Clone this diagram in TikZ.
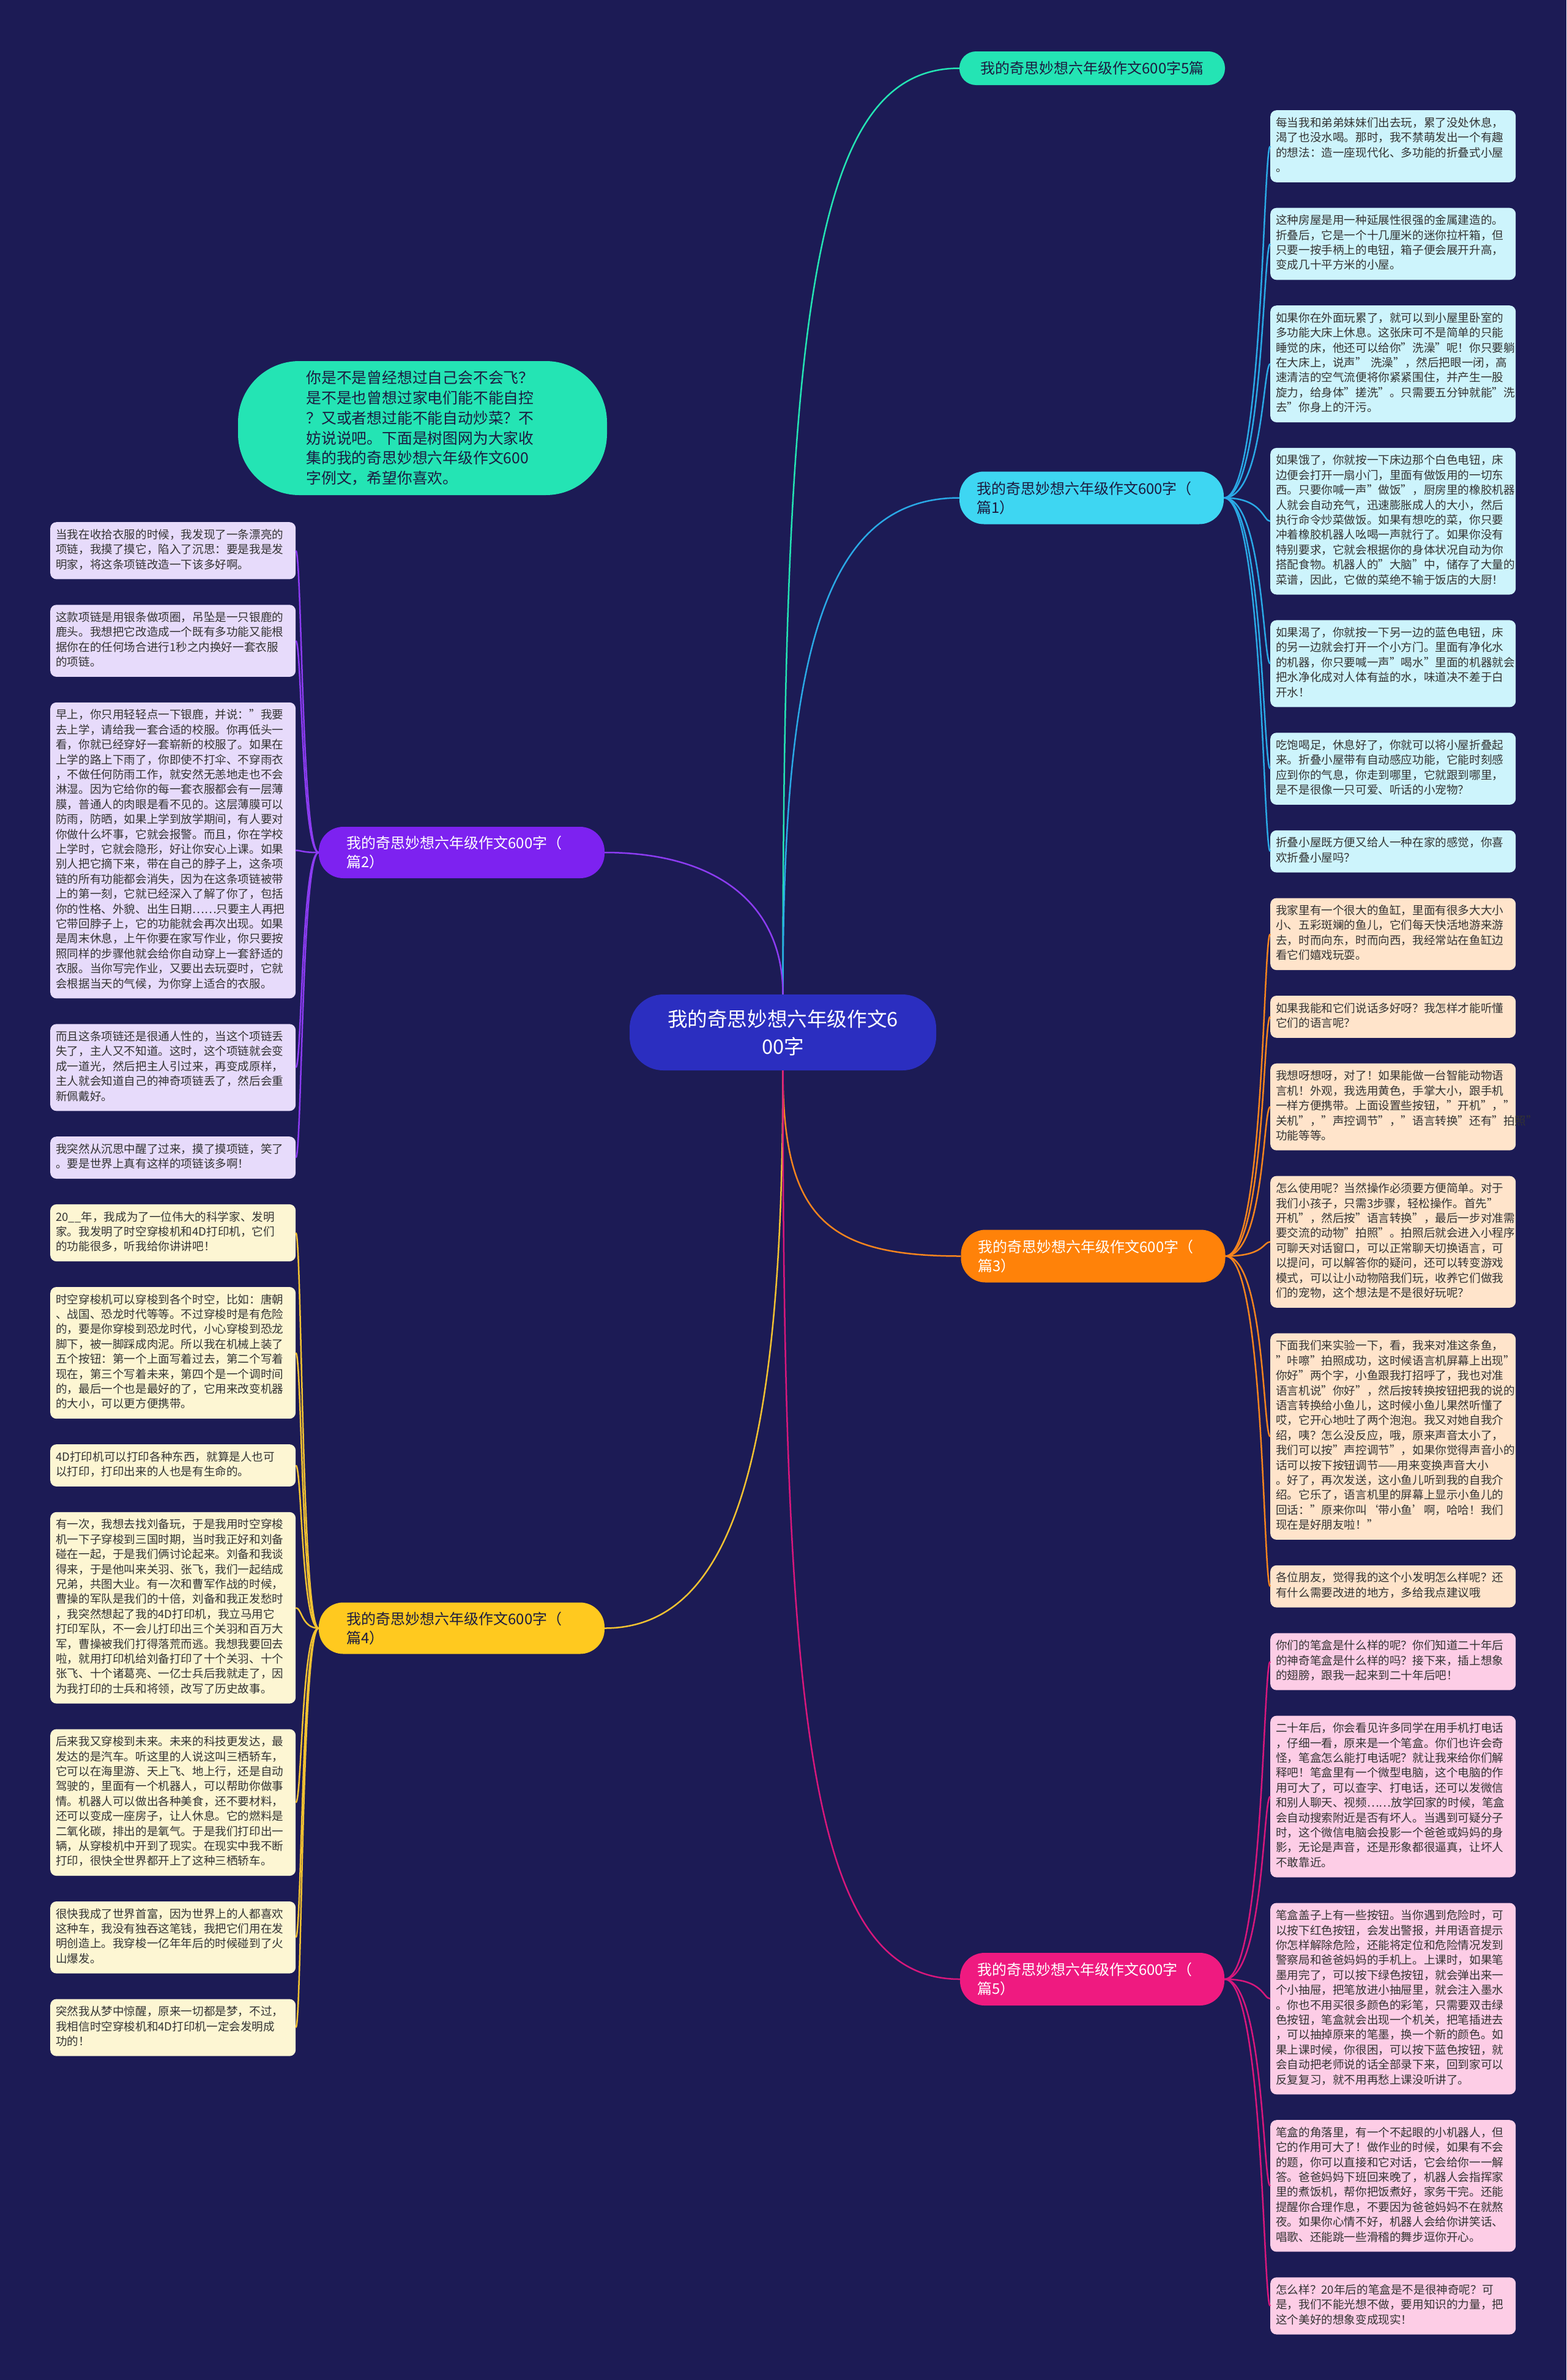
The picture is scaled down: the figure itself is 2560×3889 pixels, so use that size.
\documentclass[tikz,border=0pt]{standalone}
\usepackage{fontspec}
\setmainfont{Noto Sans CJK SC}
\usepackage{tikz}
\usetikzlibrary{positioning}
\definecolor{bgnavy}{HTML}{1C1B55}
\definecolor{rootblue}{HTML}{2B2EC0}
\definecolor{aqua}{HTML}{24E4B4}
\definecolor{cyanbr}{HTML}{3ED6F2}
\definecolor{cyanln}{HTML}{2AA9E6}
\definecolor{cyanleaf}{HTML}{CDF4FC}
\definecolor{purplebr}{HTML}{7D22F0}
\definecolor{purpleln}{HTML}{8C3CF2}
\definecolor{purpleleaf}{HTML}{E7DBFB}
\definecolor{orangebr}{HTML}{FF8209}
\definecolor{orangeln}{HTML}{F5841E}
\definecolor{orangeleaf}{HTML}{FFE4CB}
\definecolor{yellowbr}{HTML}{FFC91F}
\definecolor{yellowln}{HTML}{F2C232}
\definecolor{yellowleaf}{HTML}{FDF6D3}
\definecolor{pinkbr}{HTML}{EF1A80}
\definecolor{pinkln}{HTML}{D8177C}
\definecolor{pinkleaf}{HTML}{FDCDE6}
\definecolor{leaftext}{HTML}{333333}
\definecolor{darktext}{HTML}{1C1B40}

\begin{document}
\begin{tikzpicture}[x=1pt, y=-1pt, node distance=41.5pt,
  leaf/.style={rectangle, rounded corners=10pt, text width=383pt, inner xsep=9pt, inner ysep=10pt,
    align=left, text=leaftext, font=\fontsize{18.6}{24.4}\selectfont,
    execute at begin node=\strut, execute at end node=\strut},
  branch/.style={rectangle, rounded corners=40pt, minimum width=432pt, minimum height=86pt,
    text width=376pt, align=left, font=\fontsize{24}{31}\selectfont},
  lbranch/.style={branch, minimum width=467pt, minimum height=84pt},
  root/.style={rectangle, rounded corners=55pt, minimum width=501pt, minimum height=124pt,
    text width=420pt, align=center, fill=rootblue, text=white, font=\fontsize{32.6}{45}\selectfont},
  link/.style={line width=2.5pt}]

  \fill[bgnavy] (0,0) rectangle (2560,3889);

  \node[root] (root) at (1279.5,1687) {我的奇思妙想六年级作文6\\00字};

  \node[rectangle, rounded corners=100pt, minimum width=603pt, minimum height=219pt, text width=380pt,
    align=left, fill=aqua, text=darktext, font=\fontsize{24.8}{32.7}\selectfont] (intro) at (690.5,699.5)
    {你是不是曾经想过自己会不会飞？\\是不是也曾想过家电们能不能自控\\？又或者想过能不能自动炒菜？不\\妨说说吧。下面是树图网为大家收\\集的我的奇思妙想六年级作文600\\字例文，希望你喜欢。};

  \node[rectangle, rounded corners=27pt, minimum width=434pt, minimum height=55pt, align=center,
    fill=aqua, text=darktext, font=\fontsize{24}{31}\selectfont] (total) at (1785,111.5) {我的奇思妙想六年级作文600字5篇};

  \node[branch, fill=cyanbr, text=darktext] (b1) at (1784,813.5) {我的奇思妙想六年级作文600字（\\篇1）};
  \node[lbranch, fill=purplebr, text=white] (b2) at (754.5,1393) {我的奇思妙想六年级作文600字（\\篇2）};
  \node[branch, fill=orangebr, text=white] (b3) at (1786.5,2052.5) {我的奇思妙想六年级作文600字（\\篇3）};
  \node[lbranch, fill=yellowbr, text=darktext] (b4) at (754.5,2660.5) {我的奇思妙想六年级作文600字（\\篇4）};
  \node[branch, fill=pinkbr, text=white] (b5) at (1785,3234) {我的奇思妙想六年级作文600字（\\篇5）};

  % right column
  \node[leaf, fill=cyanleaf, anchor=north west] (r1) at (2076,180) {每当我和弟弟妹妹们出去玩，累了没处休息，\\渴了也没水喝。那时，我不禁萌发出一个有趣\\的想法：造一座现代化、多功能的折叠式小屋\\。};
  \node[leaf, fill=cyanleaf, below=of r1] (r2) {这种房屋是用一种延展性很强的金属建造的。\\折叠后，它是一个十几厘米的迷你拉杆箱，但\\只要一按手柄上的电钮，箱子便会展开升高，\\变成几十平方米的小屋。};
  \node[leaf, fill=cyanleaf, below=of r2] (r3) {如果你在外面玩累了，就可以到小屋里卧室的\\多功能大床上休息。这张床可不是简单的只能\\睡觉的床，他还可以给你"洗澡"呢！你只要躺\\在大床上，说声" 洗澡"，然后把眼一闭，高\\速清洁的空气流便将你紧紧围住，并产生一股\\旋力，给身体"搓洗"。只需要五分钟就能"洗\\去"你身上的汗污。};
  \node[leaf, fill=cyanleaf, below=of r3] (r4) {如果饿了，你就按一下床边那个白色电钮，床\\边便会打开一扇小门，里面有做饭用的一切东\\西。只要你喊一声"做饭"，厨房里的橡胶机器\\人就会自动充气，迅速膨胀成人的大小，然后\\执行命令炒菜做饭。如果有想吃的菜，你只要\\冲着橡胶机器人吆喝一声就行了。如果你没有\\特别要求，它就会根据你的身体状况自动为你\\搭配食物。机器人的"大脑"中，储存了大量的\\菜谱，因此，它做的菜绝不输于饭店的大厨！};
  \node[leaf, fill=cyanleaf, below=of r4] (r5) {如果渴了，你就按一下另一边的蓝色电钮，床\\的另一边就会打开一个小方门。里面有净化水\\的机器，你只要喊一声"喝水"里面的机器就会\\把水净化成对人体有益的水，味道决不差于白\\开水！};
  \node[leaf, fill=cyanleaf, below=of r5] (r6) {吃饱喝足，休息好了，你就可以将小屋折叠起\\来。折叠小屋带有自动感应功能，它能时刻感\\应到你的气息，你走到哪里，它就跟到哪里，\\是不是很像一只可爱、听话的小宠物？};
  \node[leaf, fill=cyanleaf, below=of r6] (r7) {折叠小屋既方便又给人一种在家的感觉，你喜\\欢折叠小屋吗？};

  \node[leaf, fill=orangeleaf, below=of r7] (o1) {我家里有一个很大的鱼缸，里面有很多大大小\\小、五彩斑斓的鱼儿，它们每天快活地游来游\\去，时而向东，时而向西，我经常站在鱼缸边\\看它们嬉戏玩耍。};
  \node[leaf, fill=orangeleaf, below=of o1] (o2) {如果我能和它们说话多好呀？我怎样才能听懂\\它们的语言呢？};
  \node[leaf, fill=orangeleaf, below=of o2] (o3) {我想呀想呀，对了！如果能做一台智能动物语\\言机！外观，我选用黄色，手掌大小，跟手机\\一样方便携带。上面设置些按钮，"开机"，"\\关机"，"声控调节"，"语言转换"还有"拍照"\\功能等等。};
  \node[leaf, fill=orangeleaf, below=of o3] (o4) {怎么使用呢？当然操作必须要方便简单。对于\\我们小孩子，只需3步骤，轻松操作。首先"\\开机"，然后按"语言转换"，最后一步对准需\\要交流的动物"拍照"。拍照后就会进入小程序\\可聊天对话窗口，可以正常聊天切换语言，可\\以提问，可以解答你的疑问，还可以转变游戏\\模式，可以让小动物陪我们玩，收养它们做我\\们的宠物，这个想法是不是很好玩呢？};
  \node[leaf, fill=orangeleaf, below=of o4] (o5) {下面我们来实验一下，看，我来对准这条鱼，\\"咔嚓"拍照成功，这时候语言机屏幕上出现"\\你好"两个字，小鱼跟我打招呼了，我也对准\\语言机说"你好"，然后按转换按钮把我的说的\\语言转换给小鱼儿，这时候小鱼儿果然听懂了\\哎，它开心地吐了两个泡泡。我又对她自我介\\绍，咦？怎么没反应，哦，原来声音太小了，\\我们可以按"声控调节"，如果你觉得声音小的\\话可以按下按钮调节——用来变换声音大小\\。好了，再次发送，这小鱼儿听到我的自我介\\绍。它乐了，语言机里的屏幕上显示小鱼儿的\\回话："原来你叫‘带小鱼’啊，哈哈！我们\\现在是好朋友啦！"};
  \node[leaf, fill=orangeleaf, below=of o5] (o6) {各位朋友，觉得我的这个小发明怎么样呢？还\\有什么需要改进的地方，多给我点建议哦};

  \node[leaf, fill=pinkleaf, below=of o6] (p1) {你们的笔盒是什么样的呢？你们知道二十年后\\的神奇笔盒是什么样的吗？接下来，插上想象\\的翅膀，跟我一起来到二十年后吧！};
  \node[leaf, fill=pinkleaf, below=of p1] (p2) {二十年后，你会看见许多同学在用手机打电话\\，仔细一看，原来是一个笔盒。你们也许会奇\\怪，笔盒怎么能打电话呢？就让我来给你们解\\释吧！笔盒里有一个微型电脑，这个电脑的作\\用可大了，可以查字、打电话，还可以发微信\\和别人聊天、视频……放学回家的时候，笔盒\\会自动搜索附近是否有坏人。当遇到可疑分子\\时，这个微信电脑会投影一个爸爸或妈妈的身\\影，无论是声音，还是形象都很逼真，让坏人\\不敢靠近。};
  \node[leaf, fill=pinkleaf, below=of p2] (p3) {笔盒盖子上有一些按钮。当你遇到危险时，可\\以按下红色按钮，会发出警报，并用语音提示\\你怎样解除危险，还能将定位和危险情况发到\\警察局和爸爸妈妈的手机上。上课时，如果笔\\墨用完了，可以按下绿色按钮，就会弹出来一\\个小抽屉，把笔放进小抽屉里，就会注入墨水\\。你也不用买很多颜色的彩笔，只需要双击绿\\色按钮，笔盒就会出现一个机关，把笔插进去\\，可以抽掉原来的笔墨，换一个新的颜色。如\\果上课时候，你很困，可以按下蓝色按钮，就\\会自动把老师说的话全部录下来，回到家可以\\反复复习，就不用再愁上课没听讲了。};
  \node[leaf, fill=pinkleaf, below=of p3] (p4) {笔盒的角落里，有一个不起眼的小机器人，但\\它的作用可大了！做作业的时候，如果有不会\\的题，你可以直接和它对话，它会给你一一解\\答。爸爸妈妈下班回来晚了，机器人会指挥家\\里的煮饭机，帮你把饭煮好，家务干完。还能\\提醒你合理作息，不要因为爸爸妈妈不在就熬\\夜。如果你心情不好，机器人会给你讲笑话、\\唱歌、还能跳一些滑稽的舞步逗你开心。};
  \node[leaf, fill=pinkleaf, below=of p4] (p5) {怎么样？20年后的笔盒是不是很神奇呢？可\\是，我们不能光想不做，要用知识的力量，把\\这个美好的想象变成现实！};

  % left column
  \node[leaf, fill=purpleleaf, anchor=north west] (v1) at (82,853) {当我在收拾衣服的时候，我发现了一条漂亮的\\项链，我摸了摸它，陷入了沉思：要是我是发\\明家，将这条项链改造一下该多好啊。};
  \node[leaf, fill=purpleleaf, below=of v1] (v2) {这款项链是用银条做项圈，吊坠是一只银鹿的\\鹿头。我想把它改造成一个既有多功能又能根\\据你在的任何场合进行1秒之内换好一套衣服\\的项链。};
  \node[leaf, fill=purpleleaf, below=of v2] (v3) {早上，你只用轻轻点一下银鹿，并说："我要\\去上学，请给我一套合适的校服。你再低头一\\看，你就已经穿好一套崭新的校服了。如果在\\上学的路上下雨了，你即使不打伞、不穿雨衣\\，不做任何防雨工作，就安然无恙地走也不会\\淋湿。因为它给你的每一套衣服都会有一层薄\\膜，普通人的肉眼是看不见的。这层薄膜可以\\防雨，防晒，如果上学到放学期间，有人要对\\你做什么坏事，它就会报警。而且，你在学校\\上学时，它就会隐形，好让你安心上课。如果\\别人把它摘下来，带在自己的脖子上，这条项\\链的所有功能都会消失，因为在这条项链被带\\上的第一刻，它就已经深入了解了你了，包括\\你的性格、外貌、出生日期……只要主人再把\\它带回脖子上，它的功能就会再次出现。如果\\是周末休息，上午你要在家写作业，你只要按\\照同样的步骤他就会给你自动穿上一套舒适的\\衣服。当你写完作业，又要出去玩耍时，它就\\会根据当天的气候，为你穿上适合的衣服。};
  \node[leaf, fill=purpleleaf, below=of v3] (v4) {而且这条项链还是很通人性的，当这个项链丢\\失了，主人又不知道。这时，这个项链就会变\\成一道光，然后把主人引过来，再变成原样，\\主人就会知道自己的神奇项链丢了，然后会重\\新佩戴好。};
  \node[leaf, fill=purpleleaf, below=of v4] (v5) {我突然从沉思中醒了过来，摸了摸项链，笑了\\。要是世界上真有这样的项链该多啊！};

  \node[leaf, fill=yellowleaf, below=of v5] (y1) {20\_\_年，我成为了一位伟大的科学家、发明\\家。我发明了时空穿梭机和4D打印机，它们\\的功能很多，听我给你讲讲吧！};
  \node[leaf, fill=yellowleaf, below=of y1] (y2) {时空穿梭机可以穿梭到各个时空，比如：唐朝\\、战国、恐龙时代等等。不过穿梭时是有危险\\的，要是你穿梭到恐龙时代，小心穿梭到恐龙\\脚下，被一脚踩成肉泥。所以我在机械上装了\\五个按钮：第一个上面写着过去，第二个写着\\现在，第三个写着未来，第四个是一个调时间\\的，最后一个也是最好的了，它用来改变机器\\的大小，可以更方便携带。};
  \node[leaf, fill=yellowleaf, below=of y2] (y3) {4D打印机可以打印各种东西，就算是人也可\\以打印，打印出来的人也是有生命的。};
  \node[leaf, fill=yellowleaf, below=of y3] (y4) {有一次，我想去找刘备玩，于是我用时空穿梭\\机一下子穿梭到三国时期，当时我正好和刘备\\碰在一起，于是我们俩讨论起来。刘备和我谈\\得来，于是他叫来关羽、张飞，我们一起结成\\兄弟，共图大业。有一次和曹军作战的时候，\\曹操的军队是我们的十倍，刘备和我正发愁时\\，我突然想起了我的4D打印机，我立马用它\\打印军队，不一会儿打印出三个关羽和百万大\\军，曹操被我们打得落荒而逃。我想我要回去\\啦，就用打印机给刘备打印了十个关羽、十个\\张飞、十个诸葛亮、一亿士兵后我就走了，因\\为我打印的士兵和将领，改写了历史故事。};
  \node[leaf, fill=yellowleaf, below=of y4] (y5) {后来我又穿梭到未来。未来的科技更发达，最\\发达的是汽车。听这里的人说这叫三栖轿车，\\它可以在海里游、天上飞、地上行，还是自动\\驾驶的，里面有一个机器人，可以帮助你做事\\情。机器人可以做出各种美食，还不要材料，\\还可以变成一座房子，让人休息。它的燃料是\\二氧化碳，排出的是氧气。于是我们打印出一\\辆，从穿梭机中开到了现实。在现实中我不断\\打印，很快全世界都开上了这种三栖轿车。};
  \node[leaf, fill=yellowleaf, below=of y5] (y6) {很快我成了世界首富，因为世界上的人都喜欢\\这种车，我没有独吞这笔钱，我把它们用在发\\明创造上。我穿梭一亿年年后的时候碰到了火\\山爆发。};
  \node[leaf, fill=yellowleaf, below=of y6] (y7) {突然我从梦中惊醒，原来一切都是梦，不过，\\我相信时空穿梭机和4D打印机一定会发明成\\功的！};

  % main branches
  \draw[link, aqua] (root.north) .. controls +(0,-1125) and +(-238,0) .. (total.west);
  \draw[link, cyanln] (root.north) .. controls +(0,-560) and +(-220,0) .. (b1.west);
  \draw[link, purpleln] (root.north) .. controls +(0,-150) and +(180,0) .. (b2.east);
  \draw[link, orangeln] (root.south) .. controls +(0,240) and +(-220,0) .. (b3.west);
  \draw[link, yellowln] (root.south) .. controls +(0,600) and +(220,0) .. (b4.east);
  \draw[link, pinkln] (root.south) .. controls +(0,1100) and +(-240,0) .. (b5.west);

  \draw[link, cyanln] (b1.east) .. controls +(64,0) and +(-12,0) .. (r1.west);
  \draw[link, cyanln] (b1.east) .. controls +(64,0) and +(-12,0) .. (r2.west);
  \draw[link, cyanln] (b1.east) .. controls +(64,0) and +(-12,0) .. (r3.west);
  \draw[link, cyanln] (b1.east) .. controls +(64,0) and +(-12,0) .. (r4.west);
  \draw[link, cyanln] (b1.east) .. controls +(64,0) and +(-12,0) .. (r5.west);
  \draw[link, cyanln] (b1.east) .. controls +(64,0) and +(-12,0) .. (r6.west);
  \draw[link, cyanln] (b1.east) .. controls +(64,0) and +(-12,0) .. (r7.west);

  \draw[link, orangeln] (b3.east) .. controls +(64,0) and +(-12,0) .. (o1.west);
  \draw[link, orangeln] (b3.east) .. controls +(64,0) and +(-12,0) .. (o2.west);
  \draw[link, orangeln] (b3.east) .. controls +(64,0) and +(-12,0) .. (o3.west);
  \draw[link, orangeln] (b3.east) .. controls +(64,0) and +(-12,0) .. (o4.west);
  \draw[link, orangeln] (b3.east) .. controls +(64,0) and +(-12,0) .. (o5.west);
  \draw[link, orangeln] (b3.east) .. controls +(64,0) and +(-12,0) .. (o6.west);

  \draw[link, pinkln] (b5.east) .. controls +(64,0) and +(-12,0) .. (p1.west);
  \draw[link, pinkln] (b5.east) .. controls +(64,0) and +(-12,0) .. (p2.west);
  \draw[link, pinkln] (b5.east) .. controls +(64,0) and +(-12,0) .. (p3.west);
  \draw[link, pinkln] (b5.east) .. controls +(64,0) and +(-12,0) .. (p4.west);
  \draw[link, pinkln] (b5.east) .. controls +(64,0) and +(-12,0) .. (p5.west);

  \draw[link, purpleln] (b2.west) .. controls +(-28,0) and +(10,0) .. (v1.east);
  \draw[link, purpleln] (b2.west) .. controls +(-28,0) and +(10,0) .. (v2.east);
  \draw[link, purpleln] (b2.west) .. controls +(-28,0) and +(10,0) .. (v3.east);
  \draw[link, purpleln] (b2.west) .. controls +(-28,0) and +(10,0) .. (v4.east);
  \draw[link, purpleln] (b2.west) .. controls +(-28,0) and +(10,0) .. (v5.east);

  \draw[link, yellowln] (b4.west) .. controls +(-28,0) and +(10,0) .. (y1.east);
  \draw[link, yellowln] (b4.west) .. controls +(-28,0) and +(10,0) .. (y2.east);
  \draw[link, yellowln] (b4.west) .. controls +(-28,0) and +(10,0) .. (y3.east);
  \draw[link, yellowln] (b4.west) .. controls +(-28,0) and +(10,0) .. (y4.east);
  \draw[link, yellowln] (b4.west) .. controls +(-28,0) and +(10,0) .. (y5.east);
  \draw[link, yellowln] (b4.west) .. controls +(-28,0) and +(10,0) .. (y6.east);
  \draw[link, yellowln] (b4.west) .. controls +(-28,0) and +(10,0) .. (y7.east);
\end{tikzpicture}
\end{document}
